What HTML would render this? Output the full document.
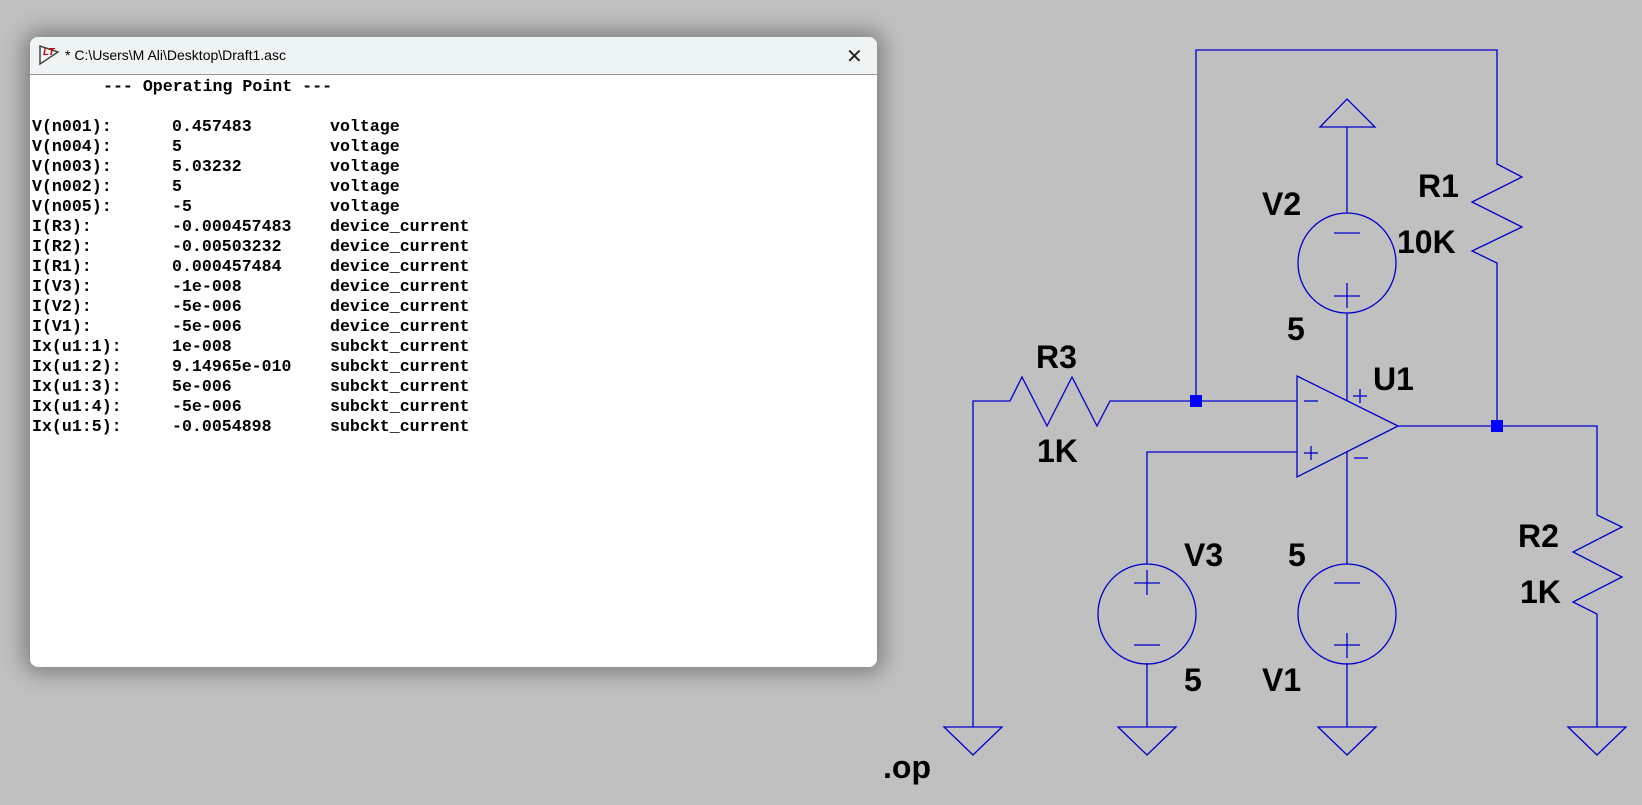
<!DOCTYPE html>
<html><head><meta charset="utf-8"><style>
html,body{margin:0;padding:0;}
body{width:1642px;height:805px;background:#c0c0c0;position:relative;overflow:hidden;}
#win{position:absolute;left:30px;top:37px;width:847px;height:630px;background:#fff;border-radius:8px;box-shadow:0 0 22px 6px rgba(0,0,0,0.35);overflow:hidden;}
#title{position:absolute;left:0;top:0;width:100%;height:37px;background:#eef3f4;border-bottom:1px solid #999;}
#title span{position:absolute;left:35px;top:10px;font:14px "Liberation Sans",sans-serif;color:#000;}
#close{position:absolute;left:816px;top:7px;font:20px "Liberation Sans",sans-serif;color:#222;}
.t{position:absolute;font:bold 16.6px "Liberation Mono",monospace;color:#000;white-space:pre;line-height:20px;}
</style></head><body>
<div id="win">
 <div id="title">
  <svg style="position:absolute;left:8px;top:7px" width="22" height="22" viewBox="0 0 22 22"><path d="M2 2 L2 20 L20 8 Z" fill="none" stroke="#444" stroke-width="1.5"/><text x="5" y="11" font-family="Liberation Sans" font-weight="bold" font-style="italic" font-size="10" fill="#c00">LT</text></svg>
  <span>* C:\Users\M Ali\Desktop\Draft1.asc</span>
  <div id="close">✕</div>
 </div>
 <div class="t" style="left:73px;top:40px">--- Operating Point ---</div>
 <div class="t" style="left:2px;top:80px">V(n001):<br>V(n004):<br>V(n003):<br>V(n002):<br>V(n005):<br>I(R3):<br>I(R2):<br>I(R1):<br>I(V3):<br>I(V2):<br>I(V1):<br>Ix(u1:1):<br>Ix(u1:2):<br>Ix(u1:3):<br>Ix(u1:4):<br>Ix(u1:5):</div>
 <div class="t" style="left:142px;top:80px">0.457483<br>5<br>5.03232<br>5<br>-5<br>-0.000457483<br>-0.00503232<br>0.000457484<br>-1e-008<br>-5e-006<br>-5e-006<br>1e-008<br>9.14965e-010<br>5e-006<br>-5e-006<br>-0.0054898</div>
 <div class="t" style="left:300px;top:80px">voltage<br>voltage<br>voltage<br>voltage<br>voltage<br>device_current<br>device_current<br>device_current<br>device_current<br>device_current<br>device_current<br>subckt_current<br>subckt_current<br>subckt_current<br>subckt_current<br>subckt_current</div>
</div>
<svg style="position:absolute;left:0;top:0" width="1642" height="805" viewBox="0 0 1642 805">
<g fill="none" stroke="#0000cc" stroke-width="1.3">
 <polyline points="1196,401 1196,50 1497,50 1497,164 1522,177 1472,202 1522,227 1472,251 1497,263 1497,426"/>
 <polyline points="973,727 973,401 1010,401 1022,377 1047,426 1072,377 1097,426 1110,401 1297,401"/>
 <polygon points="1297,376 1398,426 1297,477"/>
 <polyline points="1398,426 1597,426 1597,515 1622,527 1573,552 1622,577 1573,602 1597,614 1597,727"/>
 <polyline points="1297,452 1147,452 1147,564"/>
 <line x1="1147" y1="663" x2="1147" y2="727"/>
 <line x1="1347" y1="127" x2="1347" y2="213"/>
 <line x1="1347" y1="313" x2="1347" y2="401"/>
 <line x1="1347" y1="451" x2="1347" y2="564"/>
 <line x1="1347" y1="663" x2="1347" y2="727"/>
 <polygon points="1320,127 1375,127 1347,99"/>
 <ellipse cx="1347" cy="263" rx="49" ry="50"/>
 <line x1="1334" y1="233" x2="1360" y2="233"/><line x1="1334" y1="296" x2="1360" y2="296"/><line x1="1347" y1="283" x2="1347" y2="308"/>
 <ellipse cx="1147" cy="614" rx="49" ry="50"/>
 <line x1="1134" y1="583" x2="1160" y2="583"/><line x1="1147" y1="570" x2="1147" y2="595"/><line x1="1134" y1="645" x2="1160" y2="645"/>
 <ellipse cx="1347" cy="614" rx="49" ry="50"/>
 <line x1="1334" y1="583" x2="1360" y2="583"/><line x1="1334" y1="645" x2="1360" y2="645"/><line x1="1347" y1="633" x2="1347" y2="658"/>
 <line x1="1304" y1="401" x2="1318" y2="401"/>
 <line x1="1304" y1="453" x2="1318" y2="453"/><line x1="1311" y1="446" x2="1311" y2="460"/>
 <line x1="1353" y1="396" x2="1367" y2="396"/><line x1="1360" y1="389" x2="1360" y2="403"/>
 <line x1="1354" y1="458" x2="1368" y2="458"/>
 <polygon points="944,727 1002,727 973,755"/>
 <polygon points="1118,727 1176,727 1147,755"/>
 <polygon points="1318,727 1376,727 1347,755"/>
 <polygon points="1568,727 1626,727 1597,755"/>
</g>
<g fill="#0000ff"><rect x="1190" y="395" width="12" height="12"/><rect x="1491" y="420" width="12" height="12"/></g>
<g font-family="Liberation Sans" font-weight="bold" font-size="32" fill="#000">
 <text x="1262" y="215">V2</text><text x="1418" y="197">R1</text><text x="1397" y="253">10K</text>
 <text x="1287" y="340">5</text><text x="1373" y="390">U1</text><text x="1036" y="368">R3</text>
 <text x="1037" y="462">1K</text><text x="1184" y="566">V3</text><text x="1288" y="566">5</text>
 <text x="1184" y="691">5</text><text x="1262" y="691">V1</text><text x="1518" y="547">R2</text>
 <text x="1520" y="603">1K</text><text x="883" y="778">.op</text>
</g>
</svg>
</body></html>
